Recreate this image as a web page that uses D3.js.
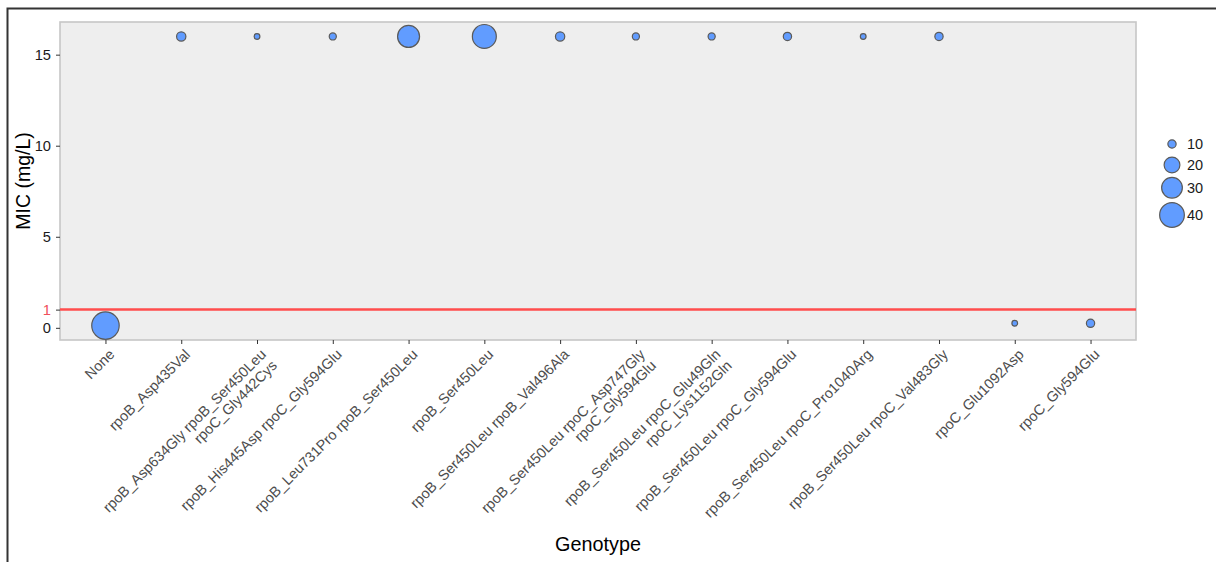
<!DOCTYPE html>
<html>
<head>
<meta charset="utf-8">
<script src="https://cdn.jsdelivr.net/npm/d3@7"></script>
<style>
  html, body { margin: 0; padding: 0; background: #fff; }
  svg { display: block; font-family: "Liberation Sans", Arial, sans-serif; }
</style>
</head>
<body>
<svg id="chart" width="1216" height="562"></svg>
<script>
// Genotype categories (multi-line labels use "\n")
const genotypes = [
  "None",
  "rpoB_Asp435Val",
  "rpoB_Asp634Gly rpoB_Ser450Leu\nrpoC_Gly442Cys",
  "rpoB_His445Asp rpoC_Gly594Glu",
  "rpoB_Leu731Pro rpoB_Ser450Leu",
  "rpoB_Ser450Leu",
  "rpoB_Ser450Leu rpoB_Val496Ala",
  "rpoB_Ser450Leu rpoC_Asp747Gly\nrpoC_Gly594Glu",
  "rpoB_Ser450Leu rpoC_Glu49Gln\nrpoC_Lys1152Gln",
  "rpoB_Ser450Leu rpoC_Gly594Glu",
  "rpoB_Ser450Leu rpoC_Pro1040Arg",
  "rpoB_Ser450Leu rpoC_Val483Gly",
  "rpoC_Glu1092Asp",
  "rpoC_Gly594Glu"
];

// MIC per genotype (mg/L)
const micValues = [0.125, 16, 16, 16, 16, 16, 16, 16, 16, 16, 16, 16, 0.25, 0.25];

// Number of isolates per genotype (point size)
const isolateCounts = [48, 11, 8, 9, 33, 38, 11, 9, 9, 10, 8, 10, 8, 10];

// Axis ticks and breakpoint
const yTicks = [0, 1, 5, 10, 15];
const breakpoint = 1;
const sizeBreaks = [10, 20, 30, 40];

const points = genotypes.map((g, i) => ({ genotype: g, mic: micValues[i], n: isolateCounts[i] }));

const svg = d3.select("#chart");
const panel = { left: 60, right: 1136, top: 22, bottom: 340 };

// outer frame
svg.append("rect")
  .attr("x", 7.5).attr("y", 8.5)
  .attr("width", 1400).attr("height", 800)
  .attr("fill", "none").attr("stroke", "#333").attr("stroke-width", 2);

// scales
const x = d3.scalePoint()
  .domain(genotypes)
  .range([panel.left, panel.right])
  .padding(0.6);

const [ymin, ymax] = d3.extent(micValues);
const pad = (ymax - ymin) * 0.05;
const y = d3.scaleLinear()
  .domain([ymin - pad, ymax + pad])
  .range([panel.bottom, panel.top]);

// point area grows linearly with isolate count
const area = d3.scaleLinear().domain([10, 40]).range([17.2, 152.5]);
const radius = v => Math.sqrt(Math.max(area(v), 1));

// panel background
svg.append("rect")
  .attr("x", panel.left).attr("y", panel.top)
  .attr("width", panel.right - panel.left).attr("height", panel.bottom - panel.top)
  .attr("fill", "#eeeeee").attr("stroke", "#c6c6c6").attr("stroke-width", 1.6);

// y axis
const yAxis = svg.append("g")
  .attr("transform", `translate(${panel.left},0)`)
  .call(d3.axisLeft(y).tickValues(yTicks).tickSize(4).tickPadding(5).tickFormat(d3.format("d")))
  .attr("font-family", null);
yAxis.select(".domain").remove();
yAxis.selectAll(".tick line").attr("stroke", "#333");
yAxis.selectAll(".tick text")
  .attr("font-size", 14.7)
  .attr("fill", d => d === breakpoint ? "#f0505a" : "#1a1a1a");

// x axis
const xAxis = svg.append("g")
  .attr("transform", `translate(0,${panel.bottom})`)
  .call(d3.axisBottom(x).tickSize(4).tickFormat(""))
  .attr("font-family", null);
xAxis.select(".domain").remove();
xAxis.selectAll(".tick line").attr("stroke", "#333");

// rotated multi-line tick labels
xAxis.selectAll(".tick").each(function(d) {
  const lines = d.split("\n");
  const t = d3.select(this).append("text")
    .attr("transform", "translate(2,8) rotate(-45)")
    .attr("text-anchor", "end")
    .attr("font-size", 14.5)
    .attr("fill", "#4d4d4d");
  lines.forEach((ln, i) => {
    t.append("tspan").attr("x", 0).attr("dy", i === 0 ? "0.72em" : "1.08em").text(ln);
  });
});

// breakpoint line
svg.append("line")
  .attr("x1", panel.left).attr("x2", panel.right)
  .attr("y1", y(breakpoint)).attr("y2", y(breakpoint))
  .attr("stroke", "#ff4d4d").attr("stroke-width", 2.5);

// points
svg.append("g").selectAll("circle")
  .data(points)
  .join("circle")
  .attr("cx", d => x(d.genotype))
  .attr("cy", d => y(d.mic))
  .attr("r", d => radius(d.n))
  .attr("fill", "#619cff")
  .attr("stroke", "#5a5a5a")
  .attr("stroke-width", 1.2);

// axis titles
svg.append("text")
  .attr("transform", `translate(30,${(panel.top + panel.bottom) / 2}) rotate(-90)`)
  .attr("text-anchor", "middle")
  .attr("font-size", 19.5)
  .attr("fill", "#000")
  .text("MIC (mg/L)");

svg.append("text")
  .attr("x", (panel.left + panel.right) / 2)
  .attr("y", 551)
  .attr("text-anchor", "middle")
  .attr("font-size", 19.8)
  .attr("fill", "#000")
  .text("Genotype");

// size legend
const legend = svg.append("g").attr("transform", "translate(1172,0)");
let cy = 144;
sizeBreaks.forEach((v, i) => {
  if (i > 0) {
    const prev = radius(sizeBreaks[i - 1]), cur = radius(v);
    cy += Math.max(21, prev + cur + 4.5);
  }
  legend.append("circle")
    .attr("cx", 0).attr("cy", cy).attr("r", radius(v))
    .attr("fill", "#619cff").attr("stroke", "#5a5a5a").attr("stroke-width", 1.2);
  legend.append("text")
    .attr("x", 15).attr("y", cy).attr("dy", "0.35em")
    .attr("font-size", 14.5).attr("fill", "#1a1a1a")
    .text(v);
});
</script>
</body>
</html>
